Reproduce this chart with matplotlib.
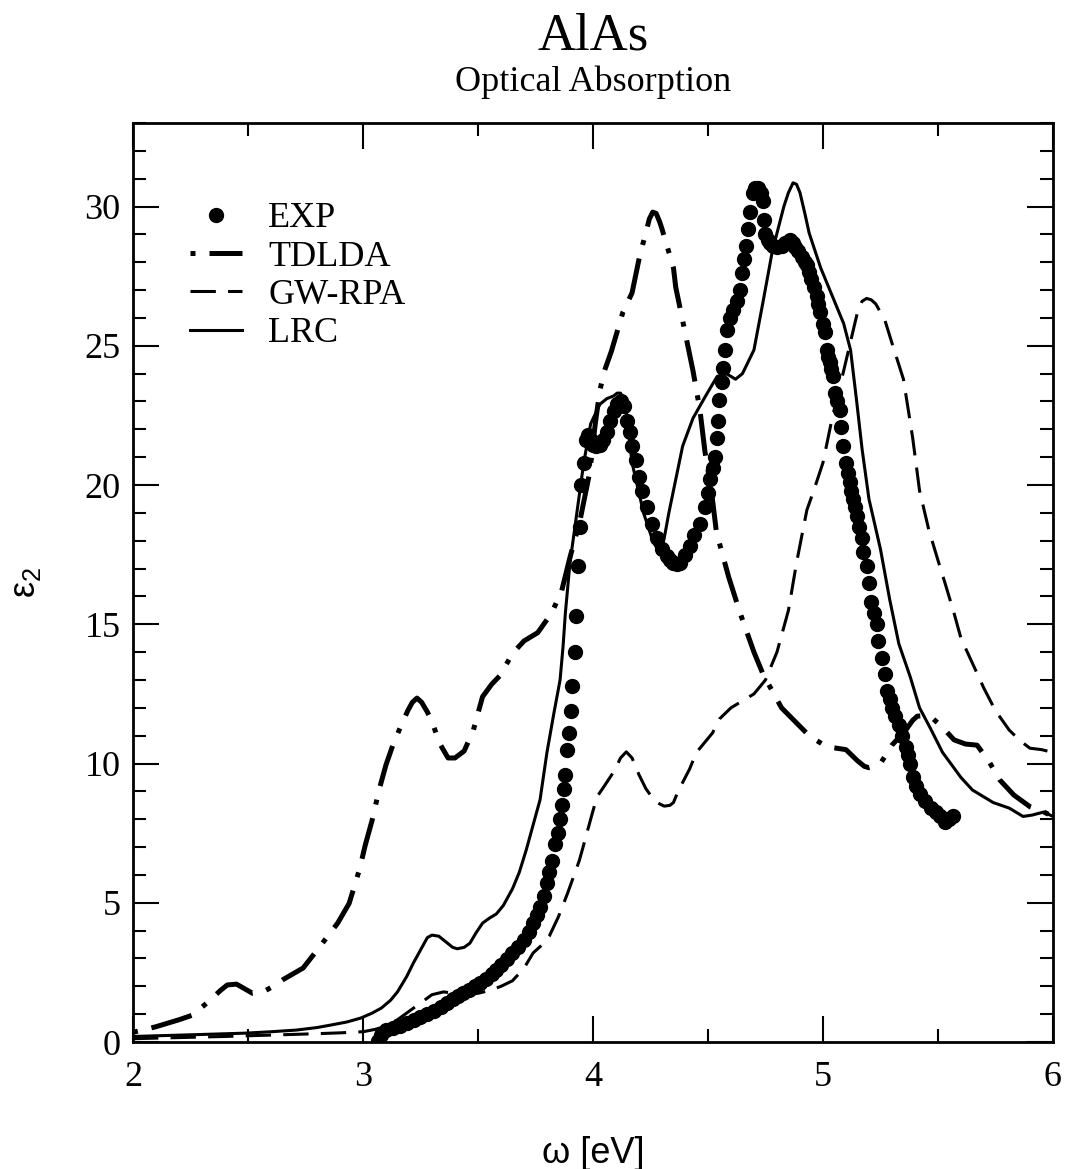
import matplotlib.pyplot as plt

plt.rcParams['font.family'] = 'Liberation Serif'
plt.rcParams['mathtext.fontset'] = 'custom'
plt.rcParams['mathtext.rm'] = 'Liberation Sans'

# EXP (measured eps2)
exp_w = [3.066, 3.08, 3.10, 3.13, 3.16, 3.19, 3.22, 3.25, 3.28, 3.31, 3.34, 3.365, 3.39, 3.415,
         3.435, 3.46, 3.485, 3.51, 3.535, 3.56, 3.58, 3.60, 3.625, 3.65, 3.675, 3.70, 3.72, 3.74,
         3.755, 3.77, 3.785, 3.80, 3.81, 3.82, 3.835, 3.848, 3.857, 3.865, 3.873, 3.879, 3.888,
         3.896, 3.904, 3.91, 3.92, 3.927, 3.936, 3.943, 3.95, 3.96, 3.97, 3.98, 3.99, 4.00, 4.015,
         4.03, 4.045, 4.06, 4.075, 4.09, 4.105, 4.12, 4.135, 4.15, 4.16, 4.17, 4.185, 4.20, 4.215,
         4.235, 4.255, 4.28, 4.30, 4.32, 4.335, 4.35, 4.365, 4.38, 4.40, 4.42, 4.44, 4.465, 4.487,
         4.50, 4.51, 4.52, 4.53, 4.54, 4.545, 4.55, 4.56, 4.566, 4.574, 4.581, 4.595, 4.61, 4.625,
         4.639, 4.65, 4.655, 4.665, 4.675, 4.683, 4.696, 4.705, 4.717, 4.73, 4.74, 4.742, 4.748,
         4.76, 4.77, 4.785, 4.80, 4.82, 4.835, 4.857, 4.87, 4.878, 4.89, 4.907, 4.92, 4.93, 4.94,
         4.95, 4.96, 4.973, 4.98, 4.987, 5.00, 5.009, 5.016, 5.023, 5.03, 5.037, 5.043, 5.052,
         5.063, 5.074, 5.08, 5.088, 5.10, 5.108, 5.117, 5.124, 5.13, 5.138, 5.146, 5.157, 5.168,
         5.175, 5.19, 5.20, 5.21, 5.222, 5.235, 5.24, 5.256, 5.27, 5.28, 5.29, 5.30, 5.315, 5.33,
         5.345, 5.36, 5.37, 5.38, 5.39, 5.405, 5.42, 5.445, 5.47, 5.49, 5.51, 5.53, 5.55, 5.565]
exp_eps = [0.05, 0.25, 0.42, 0.5, 0.58, 0.68, 0.79, 0.9, 1.0, 1.12, 1.27, 1.4, 1.55, 1.67,
           1.76, 1.88, 2.0, 2.12, 2.28, 2.45, 2.59, 2.75, 2.97, 3.2, 3.42, 3.66, 3.95, 4.27,
           4.55, 4.85, 5.25, 5.7, 6.1, 6.5, 7.1, 7.5, 8.0, 8.5, 9.1, 9.6, 10.5,
           11.1, 11.9, 12.8, 14.0, 15.3, 17.1, 18.5, 20.0, 20.8, 21.6, 21.8, 21.6, 21.45, 21.4,
           21.45, 21.6, 21.9, 22.3, 22.65, 22.9, 23.0, 22.85, 22.3, 21.9, 21.4, 20.9, 20.3, 19.8,
           19.2, 18.6, 18.1, 17.7, 17.45, 17.3, 17.2, 17.15, 17.2, 17.5, 17.8, 18.2, 18.6, 19.2,
           19.7, 20.2, 20.6, 21.0, 21.7, 22.3, 23.05, 23.7, 24.2, 24.85, 25.57, 26.0, 26.3, 26.6,
           27.0, 27.6, 28.1, 28.6, 29.2, 29.8, 30.5, 30.65, 30.66, 30.5, 30.2, 29.5, 29.0,
           28.8, 28.7, 28.6, 28.55, 28.6, 28.7, 28.8, 28.7, 28.55, 28.4, 28.2, 28.0, 27.9, 27.65,
           27.4, 27.1, 26.8, 26.5, 26.2, 25.8, 25.5, 24.85, 24.6, 24.4, 24.15, 23.9, 23.3,
           23.0, 22.7, 22.1, 21.4, 20.8, 20.45, 20.1, 19.8, 19.5, 19.2, 18.9, 18.5, 18.1,
           17.6, 17.1, 16.5, 15.8, 15.4, 15.0, 14.4, 13.8, 13.2, 12.6, 12.3, 12.0, 11.7, 11.4,
           11.0, 10.6, 10.3, 10.0, 9.5, 9.2, 8.9, 8.65, 8.4, 8.25, 8.1, 7.9, 8.0, 8.1]

# TDLDA
tdlda_w = [2.00, 2.10, 2.20, 2.26, 2.335, 2.38, 2.41, 2.45, 2.48, 2.52, 2.565, 2.61, 2.65, 2.74,
           2.81, 2.89, 2.94, 2.985, 3.01, 3.04, 3.07, 3.10, 3.13, 3.165, 3.195, 3.215, 3.235,
           3.255, 3.28, 3.30, 3.335, 3.37, 3.40, 3.44, 3.48, 3.52, 3.56, 3.595, 3.65, 3.70, 3.76,
           3.82, 3.864, 3.90, 3.943, 3.987, 4.01, 4.03, 4.05, 4.08, 4.13, 4.17, 4.205, 4.23, 4.245,
           4.26, 4.275, 4.29, 4.30, 4.35, 4.36, 4.40, 4.435, 4.465, 4.487, 4.515, 4.537, 4.59,
           4.64, 4.70, 4.74, 4.78, 4.82, 4.88, 4.94, 5.016, 5.06, 5.10, 5.15, 5.18, 5.20, 5.225,
           5.25, 5.30, 5.36, 5.39, 5.41, 5.44, 5.48, 5.52, 5.57, 5.62, 5.67, 5.72, 5.77, 5.83,
           5.90, 5.95, 6.00]
tdlda_eps = [0.35, 0.55, 0.8, 0.97, 1.5, 1.85, 2.05, 2.08, 1.94, 1.75, 1.8, 2.0, 2.23, 2.66,
             3.4, 4.27, 4.98, 6.2, 7.07, 7.97, 9.05, 9.95, 10.66, 11.35, 11.9, 12.2, 12.35,
             12.2, 11.85, 11.5, 10.7, 10.2, 10.2, 10.45, 11.2, 12.4, 12.85, 13.15, 13.95, 14.4, 14.7,
             15.4, 16.2, 17.4, 18.7, 20.5, 22.2, 23.4, 24.1, 24.8, 26.2, 26.9, 28.3, 29.05, 29.55,
             29.8, 29.75, 29.45, 29.2, 27.8, 27.1, 25.5, 24.1, 22.7, 21.2, 19.8, 18.3, 16.7,
             15.4, 14.0, 13.2, 12.6, 12.0, 11.5, 11.0, 10.6, 10.55, 10.5, 10.1, 9.9, 9.85, 9.9,
             10.0, 10.66, 11.2, 11.55, 11.7, 11.72, 11.6, 11.3, 10.85, 10.7, 10.66, 10.1, 9.4, 8.87,
             8.45, 8.3, 8.1]

# GW-RPA
gw_w = [2.00, 2.20, 2.40, 2.60, 2.80, 2.90, 3.00, 3.05, 3.09, 3.15, 3.20, 3.25, 3.30, 3.35, 3.40,
        3.45, 3.50, 3.55, 3.60, 3.65, 3.70, 3.74, 3.78, 3.81, 3.85, 3.89, 3.94, 3.957, 3.99, 4.017,
        4.05, 4.09, 4.12, 4.145, 4.17, 4.20, 4.23, 4.26, 4.29, 4.31, 4.335, 4.35, 4.37, 4.42,
        4.45, 4.52, 4.55, 4.60, 4.64, 4.70, 4.75, 4.80, 4.85, 4.885, 4.93, 4.96, 5.00, 5.04, 5.09,
        5.11, 5.15, 5.17, 5.19, 5.21, 5.23, 5.27, 5.30, 5.35, 5.39, 5.42, 5.46, 5.50, 5.53, 5.57,
        5.60, 5.65, 5.70, 5.75, 5.81, 5.86, 5.90, 5.95, 6.00]
gw_eps = [0.12, 0.16, 0.2, 0.25, 0.3, 0.33, 0.37, 0.45, 0.54, 0.8, 1.1, 1.4, 1.7, 1.8, 1.75,
          1.7, 1.75, 1.85, 2.0, 2.2, 2.65, 3.2, 3.5, 3.8, 4.5, 5.35, 6.5, 7.0, 8.0, 8.8,
          9.2, 9.7, 10.2, 10.42, 10.2, 9.6, 9.1, 8.75, 8.55, 8.47, 8.5, 8.6, 9.0, 9.8,
          10.4, 11.1, 11.6, 12.0, 12.2, 12.5, 13.0, 14.0, 15.5, 17.2, 19.1, 19.8, 20.8, 22.4, 24.1,
          24.8, 26.2, 26.6, 26.7, 26.65, 26.5, 25.9, 25.1, 23.8, 21.7, 19.8, 18.4, 17.3, 16.5, 15.4,
          14.5, 13.6, 12.7, 11.9, 11.2, 10.8, 10.55, 10.5, 10.4]

# LRC
lrc_w = [2.00, 2.25, 2.49, 2.60, 2.71, 2.80, 2.86, 2.93, 2.99, 3.04, 3.08, 3.12, 3.15, 3.19,
         3.22, 3.25, 3.28, 3.30, 3.33, 3.36, 3.39, 3.41, 3.44, 3.465, 3.49, 3.52, 3.55, 3.58,
         3.61, 3.65, 3.68, 3.71, 3.74, 3.77, 3.80, 3.83, 3.857, 3.87, 3.88, 3.90, 3.93, 3.96,
         3.99, 4.03, 4.06, 4.09, 4.105, 4.12, 4.13, 4.145, 4.17, 4.22, 4.26, 4.28, 4.30, 4.31,
         4.33, 4.36, 4.39, 4.435, 4.49, 4.54, 4.58, 4.62, 4.65, 4.70, 4.74, 4.78, 4.83, 4.85,
         4.87, 4.885, 4.90, 4.92, 4.94, 4.99, 5.04, 5.09, 5.12, 5.146, 5.17, 5.20, 5.25, 5.29,
         5.33, 5.38, 5.42, 5.465, 5.52, 5.60, 5.65, 5.74, 5.81, 5.87, 5.91, 5.96, 6.00]
lrc_eps = [0.2, 0.26, 0.32, 0.37, 0.43, 0.52, 0.61, 0.72, 0.86, 1.04, 1.22, 1.5, 1.8, 2.35,
           2.85, 3.3, 3.75, 3.84, 3.8, 3.6, 3.4, 3.35, 3.4, 3.55, 3.9, 4.27, 4.45, 4.6,
           4.9, 5.5, 6.1, 6.9, 7.8, 8.7, 10.4, 11.8, 13.0, 14.2, 15.4, 17.2, 19.0, 20.8,
           22.2, 22.9, 23.1, 23.2, 23.3, 23.3, 23.15, 22.6, 20.8, 19.0, 18.0, 17.7, 17.75, 18.1,
           19.0, 20.2, 21.4, 22.4, 23.2, 23.9, 24.0, 23.8, 24.0, 24.85, 26.6, 28.4, 30.0, 30.5,
           30.85, 30.8, 30.5, 29.8, 29.05, 27.8, 26.8, 25.8, 24.85, 23.05, 21.3, 19.5, 17.7, 15.9,
           14.3, 13.1, 12.0, 11.3, 10.4, 9.5, 9.05, 8.6, 8.4, 8.1, 8.15, 8.26, 8.1]

fig = plt.figure(figsize=(10.68, 11.69), dpi=100)
ax = fig.add_axes([0.1245, 0.1086, 0.8614, 0.7862])

ax.plot(exp_w, exp_eps, 'o', color='black', markersize=10, label='EXP', zorder=3)
ax.plot(tdlda_w, tdlda_eps, color='black', lw=3.6, ls=(11.2, (8.4, 2.8, 1, 2.8)),
        dash_capstyle='butt', dash_joinstyle='round', label='TDLDA')
ax.plot(gw_w, gw_eps, color='black', lw=2.2, ls=(0, (8.3, 4)), dash_joinstyle='round',
        label='GW-RPA')
ax.plot(lrc_w, lrc_eps, color='black', lw=2.2, solid_joinstyle='round', label='LRC')

ax.set_xlim(2, 6)
ax.set_ylim(0, 33)
ax.set_xticks([2, 3, 4, 5, 6])
ax.set_xticks([2.5, 3.5, 4.5, 5.5], minor=True)
ax.set_yticks([0, 5, 10, 15, 20, 25, 30])
ax.set_yticks([y for y in range(34) if y % 5 != 0], minor=True)
ax.tick_params(which='both', direction='in', top=True, right=True, width=1.5,
               labelsize=26)
ax.tick_params(which='major', length=19)
ax.tick_params(which='minor', length=9.5)
ax.tick_params(axis='y', pad=9)
ax.tick_params(axis='x', pad=14)
for s in ax.spines.values():
    s.set_linewidth(2)

ax.set_xlabel(r'ω [eV]', family='Liberation Sans', fontsize=26, labelpad=30)
ax.set_ylabel(r'ε$_2$', family='Liberation Sans', fontsize=26, labelpad=30)

fig.text(0.5552, 1 - 50 / 1169, 'AlAs', ha='center', va='baseline', fontsize=38)
fig.text(0.5552, 1 - 91 / 1169, 'Optical Absorption', ha='center', va='baseline', fontsize=26)

ax.legend(loc='upper left', bbox_to_anchor=(0.062, 0.914), frameon=False, fontsize=26,
          borderpad=0, borderaxespad=0, handlelength=1.44, handletextpad=0.72,
          labelspacing=0.14)

fig.savefig('out.png', dpi=100)
